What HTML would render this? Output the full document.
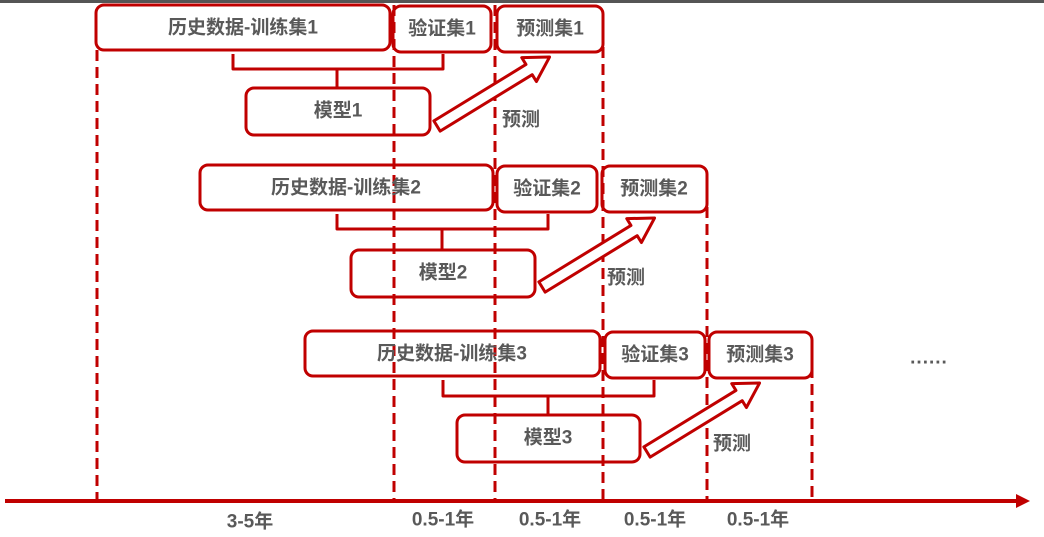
<!DOCTYPE html>
<html><head><meta charset="utf-8"><style>
html,body{margin:0;padding:0;background:#fff;}
svg{display:block}
text{font-family:"Liberation Sans","Noto Sans CJK SC",sans-serif;font-weight:bold;fill:#595959;font-size:19px;text-anchor:middle;dominant-baseline:central}
</style></head><body>
<svg width="1044" height="537" viewBox="0 0 1044 537" xmlns="http://www.w3.org/2000/svg">
<rect x="0" y="0" width="1044" height="3" fill="#555"/>
<g stroke="#c00000" stroke-width="3" fill="none" stroke-linejoin="round">
<g stroke-dasharray="11 6">
<line x1="97" y1="50" x2="97" y2="500"/>
<line x1="394" y1="5" x2="394" y2="500"/>
<line x1="495" y1="5" x2="495" y2="500"/>
<line x1="603" y1="30" x2="603" y2="500"/>
<line x1="707" y1="190" x2="707" y2="500"/>
<line x1="812" y1="350" x2="812" y2="500"/>
</g>
<rect x="96" y="5" width="294" height="45" rx="8"/>
<rect x="393" y="6" width="98" height="46" rx="8"/>
<rect x="497" y="6" width="106" height="46" rx="8"/>
<polyline points="233,54 233,69 443,69 443,54"/>
<line x1="337" y1="69" x2="337" y2="88"/>
<rect x="246" y="88" width="184" height="47" rx="8"/>
<polygon fill="#fff" transform="translate(437,126) rotate(-31.5)" points="0,-6 108,-6 108,-14 132,0 108,14 108,6 0,6"/>
<rect x="200" y="165" width="293" height="45" rx="8"/>
<rect x="497" y="166" width="100" height="46" rx="8"/>
<rect x="602" y="166" width="105" height="46" rx="8"/>
<polyline points="337,214 337,229 548,229 548,214"/>
<line x1="442" y1="229" x2="442" y2="250"/>
<rect x="351" y="250" width="184" height="47" rx="8"/>
<polygon fill="#fff" transform="translate(542,287) rotate(-31.5)" points="0,-6 108,-6 108,-14 132,0 108,14 108,6 0,6"/>
<rect x="305" y="331" width="295" height="45" rx="8"/>
<rect x="605" y="332" width="100" height="46" rx="8"/>
<rect x="709" y="332" width="103" height="46" rx="8"/>
<polyline points="443,380 443,396 654,396 654,380"/>
<line x1="548" y1="396" x2="548" y2="415"/>
<rect x="457" y="415" width="183" height="47" rx="8"/>
<polygon fill="#fff" transform="translate(647,452) rotate(-31.5)" points="0,-6 108,-6 108,-14 132,0 108,14 108,6 0,6"/>
<line x1="5" y1="501" x2="1018" y2="501" stroke-width="4"/>
</g>
<polygon points="1030,501 1016,494 1016,508" fill="#c00000"/>
<text x="243" y="28">历史数据-训练集1</text>
<text x="442" y="29">验证集1</text>
<text x="550" y="29">预测集1</text>
<text x="338" y="111">模型1</text>
<text x="521" y="120" font-size="18">预测</text>
<text x="346" y="188">历史数据-训练集2</text>
<text x="547" y="189">验证集2</text>
<text x="654" y="189">预测集2</text>
<text x="443" y="273">模型2</text>
<text x="626" y="278" font-size="18">预测</text>
<text x="452" y="354">历史数据-训练集3</text>
<text x="655" y="355">验证集3</text>
<text x="760" y="355">预测集3</text>
<text x="548" y="438">模型3</text>
<text x="732" y="444" font-size="18">预测</text>
<text x="929" y="358" font-size="20" letter-spacing="1">......</text>
<text x="250" y="522">3-5年</text>
<text x="443" y="520">0.5-1年</text>
<text x="550" y="520">0.5-1年</text>
<text x="655" y="520">0.5-1年</text>
<text x="758" y="520">0.5-1年</text>
</svg>
</body></html>
